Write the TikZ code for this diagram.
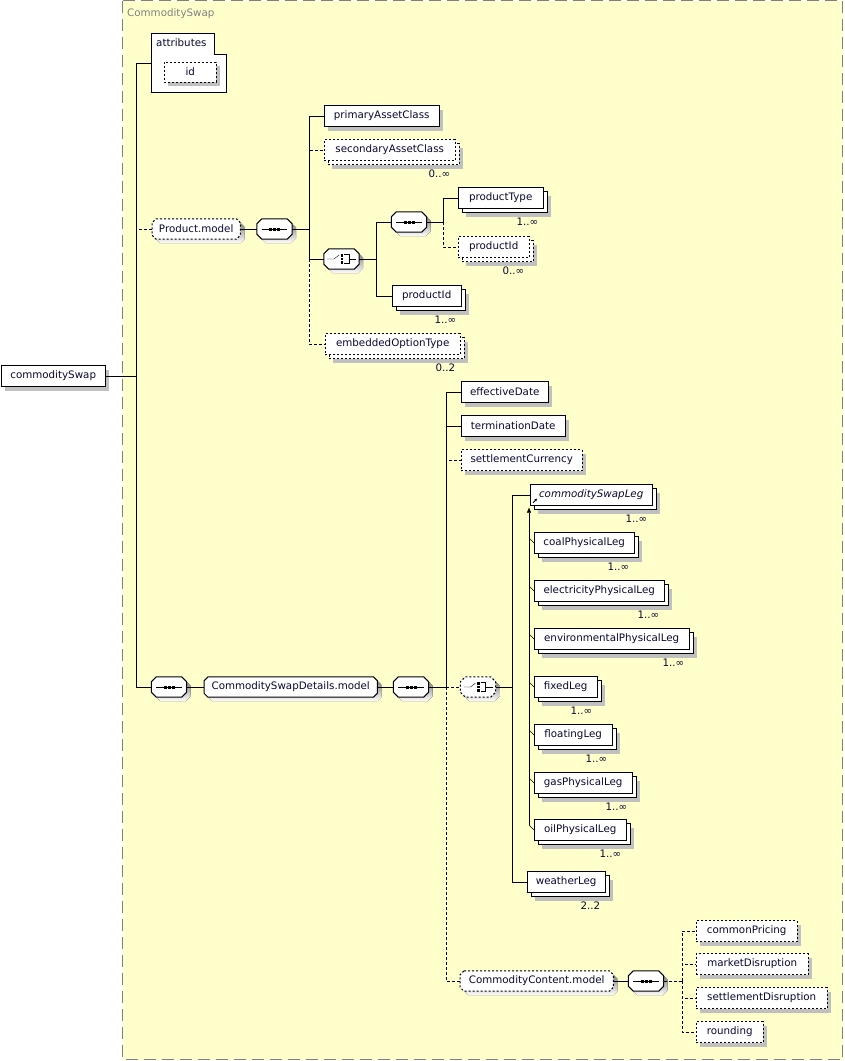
\documentclass[tikz,border=0pt]{standalone}
\usepackage{fontspec}
\setmainfont{DejaVu Sans}
\usetikzlibrary{shadows,arrows.meta}
\definecolor{groupfill}{RGB}{255,255,204}
\definecolor{groupline}{RGB}{128,128,128}
\definecolor{shade}{RGB}{192,192,192}
\definecolor{ink}{RGB}{8,8,48}
\pgfdeclarelayer{back}
\pgfdeclarelayer{octa}
\pgfsetlayers{back,octa,main}
% octagon outline + shadow behind a (plain) node
\newcommand{\octabox}[3][]{%
    \begin{pgfonlayer}{octa}
        \fill[shade, transform canvas={shift={(4pt,-4pt)}}] ([xshift=#3]#2.north west) -- ([xshift=-#3]#2.north east) -- ([yshift=-#3]#2.north east) -- ([yshift=#3]#2.south east) -- ([xshift=-#3]#2.south east) -- ([xshift=#3]#2.south west) -- ([yshift=#3]#2.south west) -- ([yshift=-#3]#2.north west) -- cycle;
        \draw[draw=black, line width=1pt, fill=white, #1] ([xshift=#3]#2.north west) -- ([xshift=-#3]#2.north east) -- ([yshift=-#3]#2.north east) -- ([yshift=#3]#2.south east) -- ([xshift=-#3]#2.south east) -- ([xshift=#3]#2.south west) -- ([yshift=#3]#2.south west) -- ([yshift=-#3]#2.north west) -- cycle;
    \end{pgfonlayer}}
\newcommand{\seqmark}[1]{%
    \draw ([xshift=5pt]#1.west) -- ([xshift=-5pt]#1.east);
    \foreach \d in {-4,0,4}
        \fill ([xshift=\d pt]#1.center) +(-1.5,-1.5) rectangle +(1.5,1.5);}
\newcommand{\choicemark}[1]{%
    \draw ([xshift=-14.5pt]#1.center) -- ++(7,0) -- ++(5,-4);
    \foreach \d in {-3.5,0,3.5}
        \fill ([xshift=0.5pt, yshift=\d pt]#1.center) +(-1.2,-1.2) rectangle +(1.2,1.2);
    \draw ([xshift=2.5pt, yshift=4.5pt]#1.center) -- ++(5,0) -- ++(0,9) -- ++(-5,0);
    \draw ([xshift=7.5pt]#1.center) -- ([xshift=14.5pt]#1.center);}
\begin{document}
\begin{tikzpicture}[x=1pt, y=-1pt, line width=1pt,
        font=\fontsize{10.3}{12}\selectfont, text=ink,
        elem/.style={rectangle, draw, fill=white, minimum height=21pt, inner sep=0pt, anchor=west},
        onebox/.style={drop shadow={shadow xshift=4pt, shadow yshift=-4pt, fill=shade, opacity=1}},
        multi/.style={drop shadow={shadow xshift=8pt, shadow yshift=-8pt, fill=shade, opacity=1},
            copy shadow={shadow xshift=4pt, shadow yshift=-4pt, draw=black, fill=white}},
        optl/.style={dash pattern=on 2pt off 2pt},
        optlink/.style={dash pattern=on 3pt off 2pt},
        mgroup/.style={rectangle, minimum height=20pt, inner sep=0pt, anchor=west},
        comp/.style={rectangle, minimum width=35pt, minimum height=20pt, inner sep=0pt},
        mult/.style={inner sep=0pt, anchor=base east}
    ]
    \useasboundingbox (0,0) rectangle (844,1061);

    \begin{pgfonlayer}{back}
        \draw[groupline, line width=1pt, dash pattern=on 12pt off 6pt, fill=groupfill] (122.5,0.5) rectangle (842.5,1059.5);
    \end{pgfonlayer}
    \node[text=groupline, anchor=west, inner sep=0pt] (grp) at (127,14) {CommoditySwap};

    \node[elem, onebox, minimum width=104pt] (cs) at (1,376) {commoditySwap};

    % attributes
    \node[anchor=north west, inner sep=0pt, minimum width=75pt, minimum height=59pt] (attr) at (151,33) {};
    \draw[fill=white] (attr.north west) -- (214,33) -- (214,54) -- (attr.east |- 0,54) -- (attr.south east) -- (attr.south west) -- cycle;
    \node[anchor=west, inner sep=0pt] (attrl) at (156,43) {attributes};
    \node[elem, optl, onebox, minimum width=52pt, minimum height=20pt] (id) at (164,72) {id};

    % Product.model
    \node[mgroup, minimum width=88pt] (pm) at (152,229) {Product.model};
    \node[comp] (pseq) at (274.5,229) {};
    \node[elem, onebox, minimum width=115pt] (pac) at (324,116) {primaryAssetClass};
    \node[elem, optl, multi, minimum width=131pt] (sac) at (324,150) {secondaryAssetClass};
    \node[comp] (pch) at (341.5,259) {};
    \node[comp] (iseq) at (409,222) {};
    \node[elem, multi, minimum width=85pt] (ptype) at (458,198) {productType};
    \node[elem, optl, multi, minimum width=71pt] (pid1) at (458,247) {productId};
    \node[elem, multi, minimum width=69pt] (pid2) at (392,296) {productId};
    \node[elem, optl, multi, minimum width=135pt] (eot) at (325,344) {embeddedOptionType};

    % CommoditySwapDetails.model
    \node[comp] (dseq1) at (169,687) {};
    \node[mgroup, minimum width=173pt] (dm) at (204,687) {CommoditySwapDetails.model};
    \node[comp] (dseq2) at (411,687) {};
    \node[elem, onebox, minimum width=87pt] (eff) at (461,392) {effectiveDate};
    \node[elem, onebox, minimum width=104pt] (term) at (461,426) {terminationDate};
    \node[elem, optl, onebox, minimum width=121pt] (scur) at (461,460) {settlementCurrency};
    \node[comp] (dch) at (478,687) {};
    \node[elem, multi, minimum width=122pt] (csl) at (530,495) {\itshape commoditySwapLeg};
    \node[elem, multi, minimum width=100pt] (coal) at (534,543) {coalPhysicalLeg};
    \node[elem, multi, minimum width=130pt] (elec) at (534,591) {electricityPhysicalLeg};
    \node[elem, multi, minimum width=155pt] (env) at (534,639) {environmentalPhysicalLeg};
    \node[elem, multi, minimum width=63pt] (fixed) at (534,687) {fixedLeg};
    \node[elem, multi, minimum width=78pt] (float) at (534,735) {floatingLeg};
    \node[elem, multi, minimum width=98pt] (gas) at (534,783) {gasPhysicalLeg};
    \node[elem, multi, minimum width=92pt] (oil) at (534,830) {oilPhysicalLeg};
    \node[elem, multi, minimum width=78pt] (weather) at (527,882) {weatherLeg};

    % CommodityContent.model
    \node[mgroup, minimum width=153pt] (ccm) at (460,981) {CommodityContent.model};
    \node[comp] (cseq) at (646,981) {};
    \node[elem, optl, onebox, minimum width=101pt] (cp) at (696,931) {commonPricing};
    \node[elem, optl, onebox, minimum width=112pt] (md) at (696,964) {marketDisruption};
    \node[elem, optl, onebox, minimum width=131pt] (sd) at (696,998) {settlementDisruption};
    \node[elem, optl, onebox, minimum width=67pt] (rnd) at (696,1032) {rounding};

    \octabox[optl]{pm}{4pt}
    \octabox{dm}{4pt}
    \octabox[optl]{ccm}{4pt}
    \foreach \n in {pseq, iseq, dseq1, dseq2, cseq} {
        \octabox{\n}{5pt}
        \seqmark{\n}
    }
    \octabox{pch}{5pt}
    \choicemark{pch}
    \octabox[optl]{dch}{5pt}
    \choicemark{dch}

    % occurrences
    \node[mult] (msac) at ([xshift=-5pt, yshift=-17pt]sac.south east) {0..∞};
    \node[mult] (mptype) at ([xshift=-5pt, yshift=-17pt]ptype.south east) {1..∞};
    \node[mult] (mpid1) at ([xshift=-5pt, yshift=-17pt]pid1.south east) {0..∞};
    \node[mult] (mpid2) at ([xshift=-5pt, yshift=-17pt]pid2.south east) {1..∞};
    \node[mult] (meot) at ([xshift=-5pt, yshift=-17pt]eot.south east) {0..2};
    \node[mult] (mcsl) at ([xshift=-5pt, yshift=-17pt]csl.south east) {1..∞};
    \node[mult] (mcoal) at ([xshift=-5pt, yshift=-17pt]coal.south east) {1..∞};
    \node[mult] (melec) at ([xshift=-5pt, yshift=-17pt]elec.south east) {1..∞};
    \node[mult] (menv) at ([xshift=-5pt, yshift=-17pt]env.south east) {1..∞};
    \node[mult] (mfixed) at ([xshift=-5pt, yshift=-17pt]fixed.south east) {1..∞};
    \node[mult] (mfloat) at ([xshift=-5pt, yshift=-17pt]float.south east) {1..∞};
    \node[mult] (mgas) at ([xshift=-5pt, yshift=-17pt]gas.south east) {1..∞};
    \node[mult] (moil) at ([xshift=-5pt, yshift=-17pt]oil.south east) {1..∞};
    \node[mult] (mweather) at ([xshift=-5pt, yshift=-17pt]weather.south east) {2..2};

    \coordinate (mv) at (136,376);
    \coordinate (pv) at (309,229);
    \coordinate (iv) at (376,259);
    \coordinate (iv2) at (443,222);
    \coordinate (dv) at (446,687);
    \coordinate (cv) at (512,687);
    \coordinate (sv) at (529,825);
    \coordinate (ev) at (682,981);

    \draw (cs) -- (mv);
    \draw (mv) |- (attr);
    \draw[optlink] (mv) |- (pm);
    \draw (mv) |- (dseq1);

    \draw (pm) -- (pseq);
    \draw (pseq) -- (pv);
    \draw (pv) |- (pac);
    \draw[optlink] (pv) |- (sac);
    \draw (pv) |- (pch);
    \draw[optlink] (pv) |- (eot);
    \draw (pch) -- (iv);
    \draw (iv) |- (iseq);
    \draw (iv) |- (pid2);
    \draw (iseq) -- (iv2);
    \draw (iv2) |- (ptype);
    \draw[optlink] (iv2) |- (pid1);

    \draw (dseq1) -- (dm);
    \draw (dm) -- (dseq2);
    \draw (dseq2) -- (dv);
    \draw (dv) |- (eff);
    \draw (dv) |- (term);
    \draw[optlink] (dv) |- (scur);
    \draw[optlink] (dv) -- (dch);
    \draw[optlink] (dv) |- (ccm);
    \draw (dch) -- (cv);
    \draw (cv) |- (csl);
    \draw (cv) |- (weather);

    \draw[-{Triangle[length=5pt, width=4pt]}, shorten >=2pt] (sv) -- (csl.south -| sv);
    \draw[-{Triangle[length=2.5pt, width=2.5pt]}, line width=0.8pt] ([xshift=3pt, yshift=3pt]csl.south west) -- ++(4,-4);
    \foreach \n in {coal, elec, env, fixed, float, gas, oil}
        \draw[line width=0.6pt] ([yshift=5pt]\n.west -| sv) -- (\n.west);

    \draw (ccm) -- (cseq);
    \draw[optlink] (cseq) -- (ev);
    \draw[optlink] (ev) |- (cp);
    \draw[optlink] (ev) |- (md);
    \draw[optlink] (ev) |- (sd);
    \draw[optlink] (ev) |- (rnd);
\end{tikzpicture}
\end{document}
